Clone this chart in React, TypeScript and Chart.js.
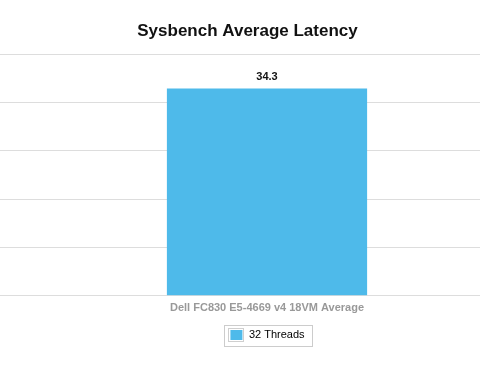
import React, { useEffect, useRef } from "react";
import { Chart, registerables } from "chart.js";

Chart.register(...registerables);

const titleText = "Sysbench Average Latency";
const categories = ["Dell FC830 E5-4669 v4 18VM Average"];
const seriesName = "32 Threads";
const seriesValues = [34.3];
const yMin = 0;
const yMax = 40;
const yStep = 8;

const FONT = "'Liberation Sans', Arial, Helvetica, sans-serif";
const BAR_COLOR = "#4EBAEA";
const GRID_COLOR = "#DDDDDD";

function alignPixel(p: number) {
  return Math.round(p - 0.5) + 0.5;
}

export default function App() {
  const ref = useRef<HTMLCanvasElement | null>(null);

  useEffect(() => {
    const canvas = ref.current;
    if (!canvas) return;

    const gridExtend = {
      id: "gridExtend",
      beforeDatasetsDraw(chart: any) {
        const ctx = chart.ctx;
        const y = chart.scales.y;
        ctx.save();
        ctx.strokeStyle = GRID_COLOR;
        ctx.lineWidth = 1;
        ctx.beginPath();
        y.ticks.forEach((t: any) => {
          const py = alignPixel(y.getPixelForValue(t.value));
          ctx.moveTo(0, py);
          ctx.lineTo(chart.chartArea.left + 1, py);
        });
        ctx.stroke();
        ctx.restore();
      },
    };

    const valueLabels = {
      id: "valueLabels",
      afterDatasetsDraw(chart: any) {
        const ctx = chart.ctx;
        ctx.save();
        ctx.font = `bold 11px ${FONT}`;
        ctx.fillStyle = "#111111";
        ctx.textAlign = "center";
        ctx.textBaseline = "alphabetic";
        chart.data.datasets.forEach((ds: any, di: number) => {
          const meta = chart.getDatasetMeta(di);
          meta.data.forEach((bar: any, i: number) => {
            const v = ds.data[i];
            ctx.fillText(Number(v).toFixed(1), bar.x, bar.y - 8);
          });
        });
        ctx.restore();
      },
    };

    const legendBox = {
      id: "legendBox",
      afterDraw(chart: any) {
        const lg = chart.legend;
        if (!lg || !lg.legendHitBoxes || !lg.legendHitBoxes.length) return;
        const ctx = chart.ctx;
        ctx.save();
        ctx.lineWidth = 1;
        lg.legendHitBoxes.forEach((hb: any) => {
          const l = Math.round(hb.left) - 5;
          const t = Math.round(hb.top) - 4;
          const r = Math.round(hb.left + hb.width) + 7;
          const b = Math.round(hb.top + hb.height) + 5;
          ctx.strokeStyle = "#CCCCCC";
          ctx.strokeRect(l + 0.5, t + 0.5, r - l, b - t);
          ctx.strokeStyle = "#CFCFCF";
          ctx.strokeRect(Math.round(hb.left) - 0.5, Math.round(hb.top) - 0.5, 15, 13);
        });
        ctx.restore();
      },
    };

    const chart = new Chart(canvas, {
      type: "bar",
      data: {
        labels: categories,
        datasets: [
          {
            label: seriesName,
            data: seriesValues,
            backgroundColor: BAR_COLOR,
            borderWidth: 0,
            categoryPercentage: 1,
            barPercentage: 0.47,
          },
        ],
      },
      options: {
        responsive: false,
        animation: false,
        layout: { padding: { left: 15, right: 0, top: 0, bottom: 18 } },
        plugins: {
          tooltip: { enabled: false },
          title: {
            display: true,
            text: titleText,
            color: "#111111",
            font: { family: FONT, size: 17, weight: "bold" },
            padding: { top: 21, bottom: 12.6 },
          },
          legend: {
            display: true,
            position: "bottom",
            fullSize: false,
            labels: {
              boxWidth: 14,
              boxHeight: 12,
              padding: 8,
              color: "#444444",
              font: { family: FONT, size: 11 },
              generateLabels: (chart: any) =>
                chart.data.datasets.map((ds: any, i: number) => ({
                  text: ds.label,
                  fillStyle: ds.backgroundColor,
                  strokeStyle: "#FFFFFF",
                  lineWidth: 2,
                  hidden: false,
                  datasetIndex: i,
                })),
            },
          },
        },
        scales: {
          x: {
            grid: { display: false, drawTicks: false },
            border: { display: false },
            ticks: {
              color: "#999999",
              font: { family: FONT, size: 11, weight: "bold" },
              padding: 6,
            },
          },
          y: {
            min: yMin,
            max: yMax,
            afterFit: (scale: any) => {
              scale.width = 39;
            },
            ticks: { display: false, stepSize: yStep },
            grid: { color: GRID_COLOR, drawTicks: false, lineWidth: 1 },
            border: { display: false },
          },
        },
      },
      plugins: [gridExtend, valueLabels, legendBox],
    } as any);

    return () => chart.destroy();
  }, []);

  return (
    <div style={{ position: "fixed", left: 0, top: 0, width: 480, height: 369, background: "#fff" }}>
      <canvas ref={ref} width={480} height={369} style={{ display: "block", width: 480, height: 369 }} />
    </div>
  );
}
